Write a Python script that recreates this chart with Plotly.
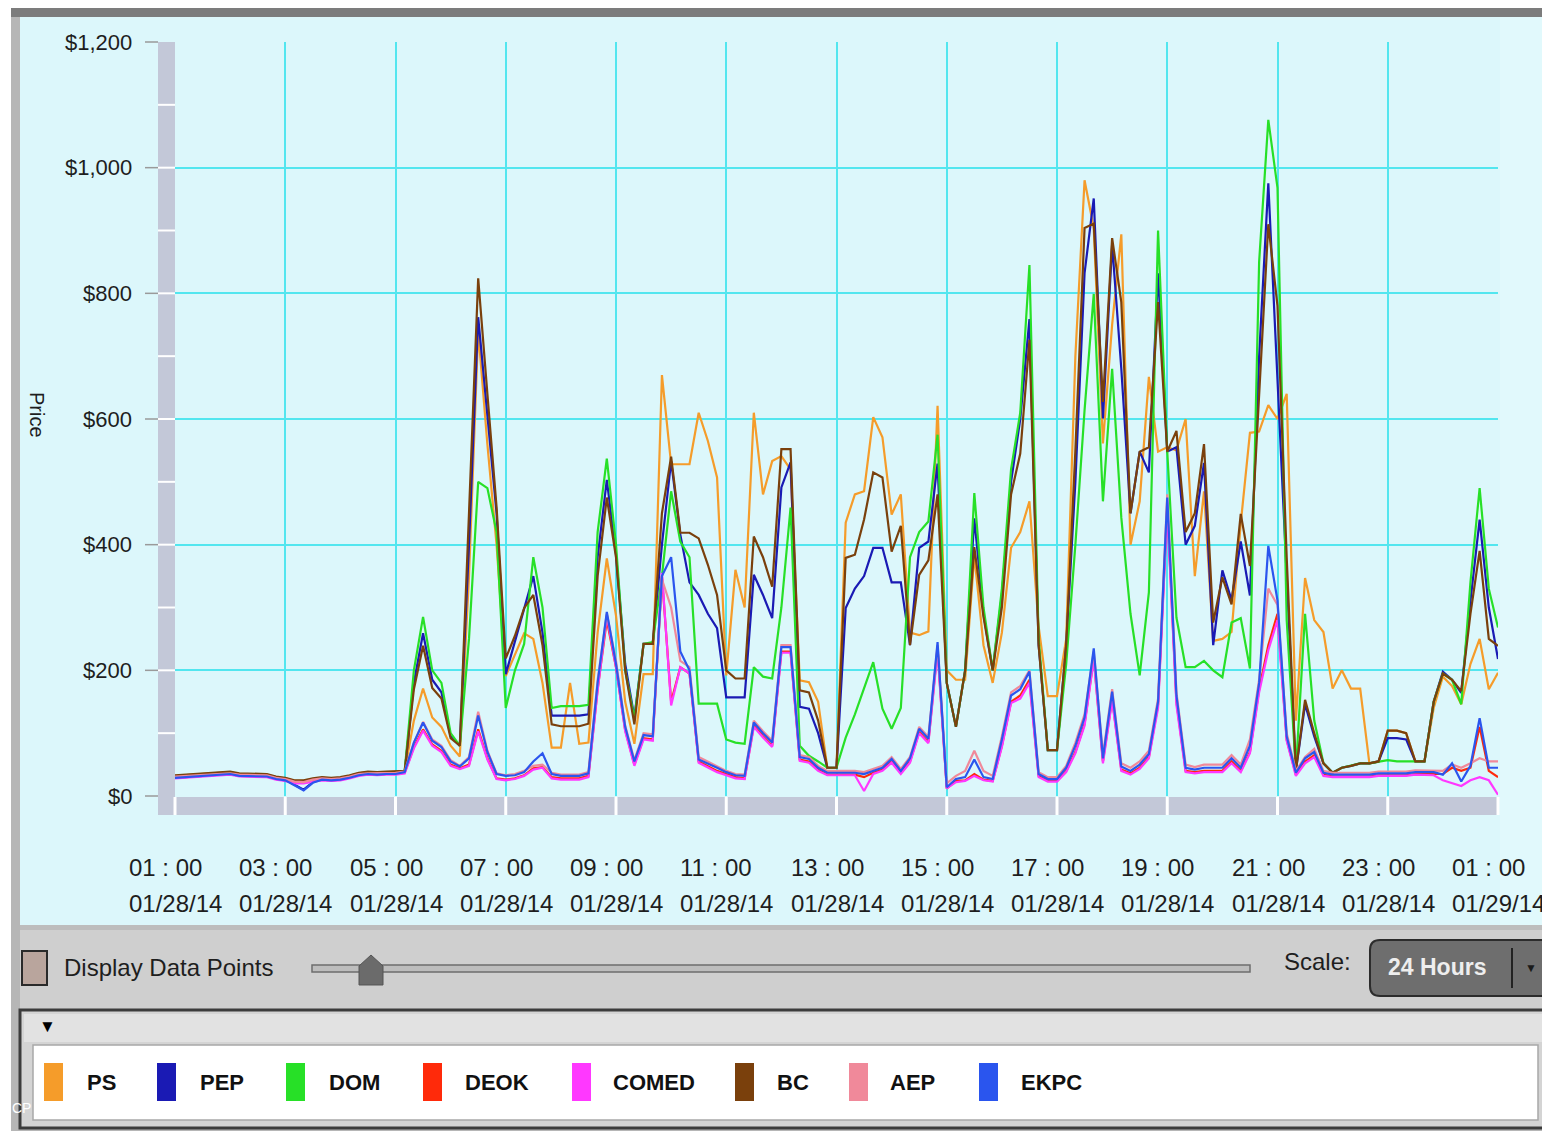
import pandas as pd
import plotly.graph_objects as go

# ---------------- data (10-minute samples, 01:00 01/28/14 -> 01:00 01/29/14) ----------------
times = pd.date_range("2014-01-28 01:00", "2014-01-29 01:00", freq="10min")
tick_times = pd.date_range("2014-01-28 01:00", periods=13, freq="2h")
y_ticks = [0, 200, 400, 600, 800, 1000, 1200]
y_tick_labels = ["$0", "$200", "$400", "$600", "$800", "$1,000", "$1,200"]

PS = [32,33,33,34,35,37,38,35,35,35,34,30,28,24,24,27,29,28,29,32,36,38,37,38,38,
      40,120,171,125,110,80,63,350,740,560,
      400,191,225,259,250,180,77,77,180,83,
      85,260,378,287,150,83,194,194,670,528,
      528,528,610,565,507,192,360,300,610,480,
      533,541,520,184,181,150,45,45,435,480,
      485,603,571,448,480,260,256,262,621,200,
      185,185,383,240,180,260,395,420,469,270,
      159,159,250,700,980,904,561,750,894,400,
      469,667,548,555,550,600,350,485,247,250,
      261,434,578,580,622,600,640,120,347,280,
      261,171,200,171,171,52,55,104,104,100,
      55,55,140,190,175,146,210,250,170,196]

PEP = [30,31,31,32,33,35,36,33,33,33,32,28,26,18,10,22,27,26,27,30,34,36,35,36,36,
       38,180,259,185,165,95,80,400,762,610,
       450,194,245,299,350,260,128,128,128,128,
       130,380,503,385,210,125,242,242,400,533,
       416,340,320,290,267,157,157,157,352,320,
       283,491,531,142,139,100,45,45,299,330,
       350,395,395,340,340,240,395,405,529,180,
       110,200,442,290,200,320,500,600,759,240,
       73,73,240,500,832,951,601,878,680,450,
       548,515,832,548,555,400,430,530,240,359,
       312,405,319,700,975,672,350,40,146,95,
       52,37,45,48,52,52,55,92,92,90,
       55,55,150,198,185,164,310,440,300,218]

DOM = [31,32,32,33,34,36,37,34,34,34,33,29,27,23,23,26,28,27,28,31,35,37,36,37,37,
       40,200,285,200,180,100,80,250,500,490,
       420,140,200,242,380,300,140,143,143,143,
       145,420,537,400,200,123,242,245,350,485,
       405,380,147,147,147,90,85,83,205,190,
       187,300,459,80,64,55,45,45,93,130,
       170,213,139,107,140,380,420,437,575,180,
       110,200,482,300,200,330,520,610,845,250,
       73,73,210,400,614,799,469,680,443,290,
       192,324,900,548,284,205,205,215,200,189,
       276,283,203,850,1076,968,280,40,290,120,
       52,37,45,48,52,52,55,57,55,55,
       55,55,150,195,185,146,340,490,330,268]

DEOK = [29,30,30,31,32,34,35,32,32,32,31,27,25,21,21,24,26,25,26,29,33,35,34,35,35,
        37,78,106,82,72,50,44,50,106,60,
        28,26,28,33,44,46,30,28,28,28,
        32,170,280,205,105,50,92,90,350,150,
        205,195,55,48,40,35,30,28,112,95,
        80,230,230,58,55,42,34,34,34,34,
        30,37,42,55,37,55,102,86,235,12,
        24,25,35,26,24,80,150,160,185,32,
        24,24,40,70,115,220,55,155,42,36,
        45,62,145,460,150,40,38,40,40,40,
        55,40,70,170,240,290,90,34,55,65,
        34,31,31,31,31,31,33,33,33,33,
        35,35,35,35,45,40,45,110,40,30]

COMED = [28,29,29,30,31,33,34,31,31,31,30,26,24,20,20,23,25,24,25,28,32,34,33,34,34,
         36,76,104,80,70,48,43,48,103,58,
         27,25,27,32,42,45,28,26,26,26,
         30,168,287,205,103,48,90,88,355,144,
         205,195,53,45,38,33,28,27,110,93,
         78,228,228,56,53,40,33,33,33,33,
         8,35,40,53,35,53,100,84,230,12,
         22,24,32,25,23,78,148,155,180,30,
         23,23,38,68,112,218,52,152,40,34,
         43,60,140,455,145,38,36,38,38,38,
         52,38,68,165,232,280,88,32,52,62,
         32,30,30,30,30,30,32,32,32,32,
         34,34,33,25,20,16,25,30,25,2]

BC = [33,34,34,35,36,38,39,36,36,36,35,31,29,25,25,28,30,29,30,33,37,39,38,39,39,
      40,170,239,172,155,92,80,450,824,640,
      460,219,255,299,320,240,114,111,111,111,
      115,350,475,380,200,114,242,242,450,540,
      419,419,410,368,320,200,187,187,413,380,
      333,552,552,168,165,120,45,45,379,384,
      440,515,507,389,430,240,352,375,480,180,
      110,200,396,285,200,300,480,545,726,240,
      73,73,240,550,904,911,627,888,786,450,
      548,555,786,548,581,420,450,560,276,348,
      305,449,366,640,910,780,380,40,153,100,
      52,37,45,48,52,52,55,104,104,100,
      55,55,150,195,185,167,290,390,250,239]

AEP = [31,32,32,33,34,35,36,34,34,34,33,29,27,23,22,26,28,27,28,31,35,36,36,37,37,
       39,85,118,90,80,57,48,62,134,72,
       36,33,35,40,48,50,37,34,34,34,
       38,185,290,215,112,57,100,98,345,300,
       215,205,62,55,48,40,35,34,120,103,
       88,240,240,65,62,48,40,40,40,40,
       38,43,48,62,43,62,110,94,240,20,
       32,40,72,40,32,95,165,175,200,38,
       30,30,48,85,130,230,65,170,52,45,
       55,72,155,480,165,50,46,50,50,50,
       65,50,90,185,330,304,100,40,62,75,
       40,37,37,37,37,37,39,39,39,39,
       41,41,41,40,50,45,52,60,55,55]

EKPC = [29,30,30,31,32,34,35,32,32,32,31,27,25,17,9,21,26,25,26,29,33,35,34,35,35,
        38,85,117,88,78,55,47,60,128,70,
        35,32,33,38,55,68,35,32,32,32,
        36,180,293,210,110,55,97,95,350,380,
        230,200,58,52,45,38,33,32,117,100,
        85,237,237,62,59,45,37,37,37,37,
        35,40,45,59,40,60,107,91,245,14,
        27,30,58,30,27,90,160,170,198,35,
        27,27,45,80,125,235,60,166,47,40,
        50,67,150,475,160,45,42,45,45,45,
        60,45,80,180,398,311,95,37,60,70,
        37,34,34,34,34,34,36,36,36,36,
        38,38,38,34,52,23,48,124,45,45]

series_names = ["PS", "PEP", "DOM", "DEOK", "COMED", "BC", "AEP", "EKPC"]
series_values = [PS, PEP, DOM, DEOK, COMED, BC, AEP, EKPC]
series_colors = ["#f59c2a", "#1a1ab4", "#27e027", "#ff2a0a", "#ff38ff", "#7a400c", "#f0899a", "#2a55ee"]

for n, v in zip(series_names, series_values):
    assert len(v) == len(times), (n, len(v))

# ---------------- geometry helpers (page pixel -> paper) ----------------
PAGE_W, PAGE_H = 1550, 1131
OFF = 8                       # default body margin of the html page
W, H = PAGE_W - OFF, PAGE_H - OFF
L, R, T, B = 175, 1498, 42, 796   # plot area in page pixels


def PX(x):
    return (x - L) / (R - L)


def PY(y):
    return (B - y) / (B - T)


FONT = "Liberation Sans, Arial, sans-serif"
TXT = "#1e1e1e"
GRID = "#52e6ef"
BAND = "#c3c8d8"

fig = go.Figure()
for n, v, c in zip(series_names, series_values, series_colors):
    fig.add_trace(go.Scatter(x=times, y=v, mode="lines", name=n,
                             line=dict(color=c, width=2.2), hoverinfo="skip",
                             showlegend=False))

shapes = []


def rect(x0, y0, x1, y1, fill, line=None, lw=0, layer="below"):
    shapes.append(dict(type="rect", xref="paper", yref="paper",
                       x0=PX(x0), x1=PX(x1), y0=PY(y1), y1=PY(y0),
                       fillcolor=fill, line=dict(color=line or fill, width=lw),
                       layer=layer))


def hline(x0, x1, y, color, w, layer="below"):
    shapes.append(dict(type="line", xref="paper", yref="paper",
                       x0=PX(x0), x1=PX(x1), y0=PY(y), y1=PY(y),
                       line=dict(color=color, width=w), layer=layer))


def vline(x, y0, y1, color, w, layer="below"):
    shapes.append(dict(type="line", xref="paper", yref="paper",
                       x0=PX(x), x1=PX(x), y0=PY(y0), y1=PY(y1),
                       line=dict(color=color, width=w), layer=layer))


def rrect_path(x0, y0, x1, y1, r):
    def p(x, y):
        return f"{PX(x):.5f},{PY(y):.5f}"
    return (f"M{p(x0 + r, y0)} L{p(x1 - r, y0)} Q{p(x1, y0)} {p(x1, y0 + r)} "
            f"L{p(x1, y1 - r)} Q{p(x1, y1)} {p(x1 - r, y1)} L{p(x0 + r, y1)} "
            f"Q{p(x0, y1)} {p(x0, y1 - r)} L{p(x0, y0 + r)} Q{p(x0, y0)} {p(x0 + r, y0)} Z")


# outer frame and panels
rect(11, 6, 1550, 1131, "#b6b6b6")
rect(11, 6, 1550, 17, "#7c7c7c")
rect(20, 17, 1550, 925, "#dcf7fb")
rect(1500, 17, 1550, 925, "#e1f9fc")
rect(20, 925, 1550, 1010, "#cfcfcf")
rect(20, 925, 1550, 930, "#bdbdbd")

# axis bands
rect(158, 42, 175, 815, BAND)
rect(160, 797, 1498, 815, BAND)
for val in range(100, 1200, 100):
    yy = B - val * (B - T) / 1200
    hline(158, 175, yy, "#ffffff", 2)
for i in range(len(tick_times)):
    xx = L + i * (R - L) / 12
    vline(xx, 797, 815, "#ffffff", 3)
# tick marks beside labels
for val in y_ticks:
    yy = B - val * (B - T) / 1200
    hline(145, 158, yy, "#9a9a9a", 1.5)

# control strip widgets
rect(22, 951, 47, 985, "#b9a59d", "#2a2a2a", 2)
rect(312, 965, 1250, 972, "#bdbdbd", "#6e6e6e", 1.5)
shapes.append(dict(type="path", xref="paper", yref="paper",
                   path=f"M{PX(371):.5f},{PY(955):.5f} L{PX(383):.5f},{PY(966):.5f} "
                        f"L{PX(383):.5f},{PY(985):.5f} L{PX(359):.5f},{PY(985):.5f} "
                        f"L{PX(359):.5f},{PY(966):.5f} Z",
                   fillcolor="#6b6b6b", line=dict(color="#555555", width=1), layer="below"))
shapes.append(dict(type="path", xref="paper", yref="paper",
                   path=rrect_path(1370, 940, 1552, 996, 10),
                   fillcolor="#6e6e6e", line=dict(color="#2c2c2c", width=2), layer="below"))
vline(1512, 948, 988, "#222222", 2)

# legend container
rect(20, 1010, 1548, 1128, "#d4d4d4", "#3c3c3c", 3)
rect(24, 1014, 1544, 1042, "#e2e2e2")
rect(33, 1045, 1538, 1120, "#ffffff", "#a8a8a8", 1.5)

legend_bar_x = [44, 157, 286, 423, 572, 735, 849, 979]
legend_text_x = [85, 198, 327, 463, 611, 775, 888, 1019]
for bx, c in zip(legend_bar_x, series_colors):
    rect(bx, 1063, bx + 19, 1101, c)

annotations = []


def text(x, y, s, size, color=TXT, anchor="left", bold=False, angle=0):
    annotations.append(dict(xref="paper", yref="paper", x=PX(x), y=PY(y),
                            text=f"<b>{s}</b>" if bold else s, showarrow=False,
                            xanchor=anchor, yanchor="middle", textangle=angle,
                            font=dict(family=FONT, size=size, color=color)))


# y tick labels (positioned by the y axis scale)
for val, lab in zip(y_ticks, y_tick_labels):
    annotations.append(dict(xref="paper", yref="y", x=PX(134), y=val, text=lab,
                            showarrow=False, xanchor="right", yanchor="middle",
                            font=dict(family=FONT, size=22, color=TXT)))

# x tick labels (positioned by the x axis scale)
for t in tick_times:
    for s, yy in ((f"{t:%H} : {t:%M}", 867), (f"{t:%m/%d/%y}", 903)):
        annotations.append(dict(xref="x", yref="paper", x=t, y=PY(yy), text=s,
                                showarrow=False, xanchor="left", yanchor="middle",
                                xshift=-48,
                                font=dict(family=FONT, size=24, color=TXT)))

text(37, 415, "Price", 20, anchor="center", angle=90)
text(62, 967, "Display Data Points", 24)
text(1282, 962, "Scale:", 24)
text(1386, 967, "24 Hours", 23, color="#eeeeee", bold=True)
text(1531, 968, "▼", 12, color="#1a1a1a", anchor="center")
text(47, 1026, "▼", 17, color="#000000", anchor="center")
text(10, 1108, "CP", 14, color="#ffffff")
for tx, n in zip(legend_text_x, series_names):
    text(tx, 1082, n, 22, bold=True, color="#111111")

fig.update_layout(
    width=W, height=H,
    margin=dict(l=L - OFF, r=W - (R - OFF), t=T - OFF, b=H - (B - OFF), pad=0),
    paper_bgcolor="#ffffff",
    plot_bgcolor="rgba(0,0,0,0)",
    shapes=shapes,
    annotations=annotations,
    showlegend=False,
    xaxis=dict(type="date", range=[times[0], times[-1]], tickvals=list(tick_times[:-1]),
               showticklabels=False, ticks="", showgrid=True, gridcolor=GRID,
               gridwidth=2, zeroline=False, showline=False, fixedrange=True),
    yaxis=dict(range=[0, 1200], tickvals=y_ticks[1:], showticklabels=False, ticks="",
               showgrid=True, gridcolor=GRID, gridwidth=2, zeroline=False,
               showline=False, fixedrange=True),
)

fig.write_html("out.html")
